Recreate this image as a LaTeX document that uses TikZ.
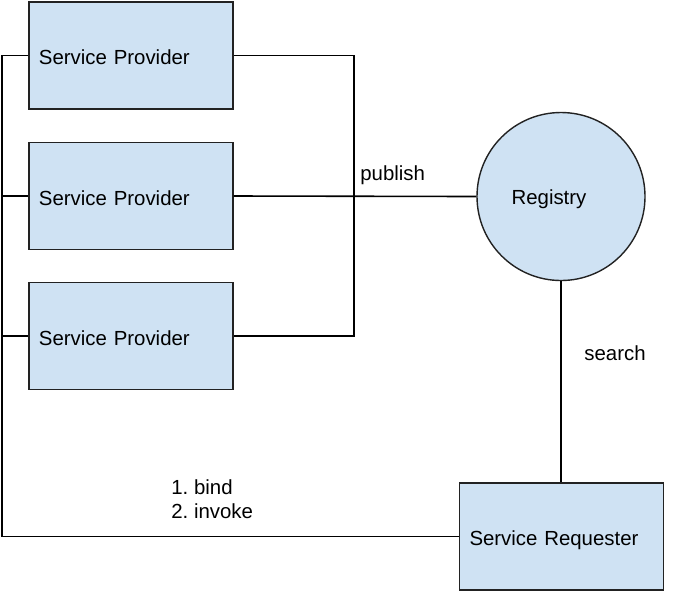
\documentclass[tikz,border=0pt]{standalone}
\usepackage{fontspec}
\setmainfont{Liberation Sans}
\usepackage{tikz}
\usetikzlibrary{calc,positioning}
\definecolor{boxblue}{HTML}{CFE2F3}
\definecolor{edge}{HTML}{222222}
\frenchspacing

\begin{document}
\begin{tikzpicture}[x=0.5pt,y=-0.5pt,font=\fontsize{10.2}{12}\selectfont,
  svc/.style={draw=edge,fill=boxblue,line width=0.7pt,rectangle,minimum height=53.5pt,text width=92pt,text height=9.2pt,text depth=0pt,inner xsep=5pt,align=left},
  reg/.style={draw=edge,fill=boxblue,line width=0.7pt,circle,minimum size=84pt,inner sep=0pt},
  wire/.style={line width=0.8pt,draw=black},
  lbl/.style={inner sep=0pt,anchor=west}]

  \useasboundingbox (0,0) rectangle (685,591);

  \node[svc] (sp1) at (131,55.5) {Service Provider};
  \node[svc] (sp2) at (131,196) {Service Provider};
  \node[svc] (sp3) at (131,336) {Service Provider};

  \node[reg,label={[xshift=-6pt,yshift=-1.5pt]center:Registry}] (registry) at (561,196.5) {};

  \node[svc] (req) at (561.5,536.5) {Service Requester};

  \coordinate (busL) at (2,55.5);
  \coordinate (busR) at (354,55.5);

  % left side: bind / invoke
  \draw[wire] (sp1.west) -- (busL) |- (req.west);
  \draw[wire] (sp2.west) -- (busL |- sp2.west);
  \draw[wire] (sp3.west) -- (busL |- sp3.west);

  % right side: publish
  \draw[wire] (sp1.east) -- (busR) |- (sp3.east);
  \draw[wire] (sp2.east) -- (registry.west);

  % search
  \draw[wire] (registry.south) -- (registry.south |- req.north);

  \node[lbl] (publish) at (360,175) {publish};
  \node[lbl] (search) at (584,353) {search};
  \node[lbl,align=left] (bind) at (171,499) {1. bind\\2. invoke};
\end{tikzpicture}
\end{document}
